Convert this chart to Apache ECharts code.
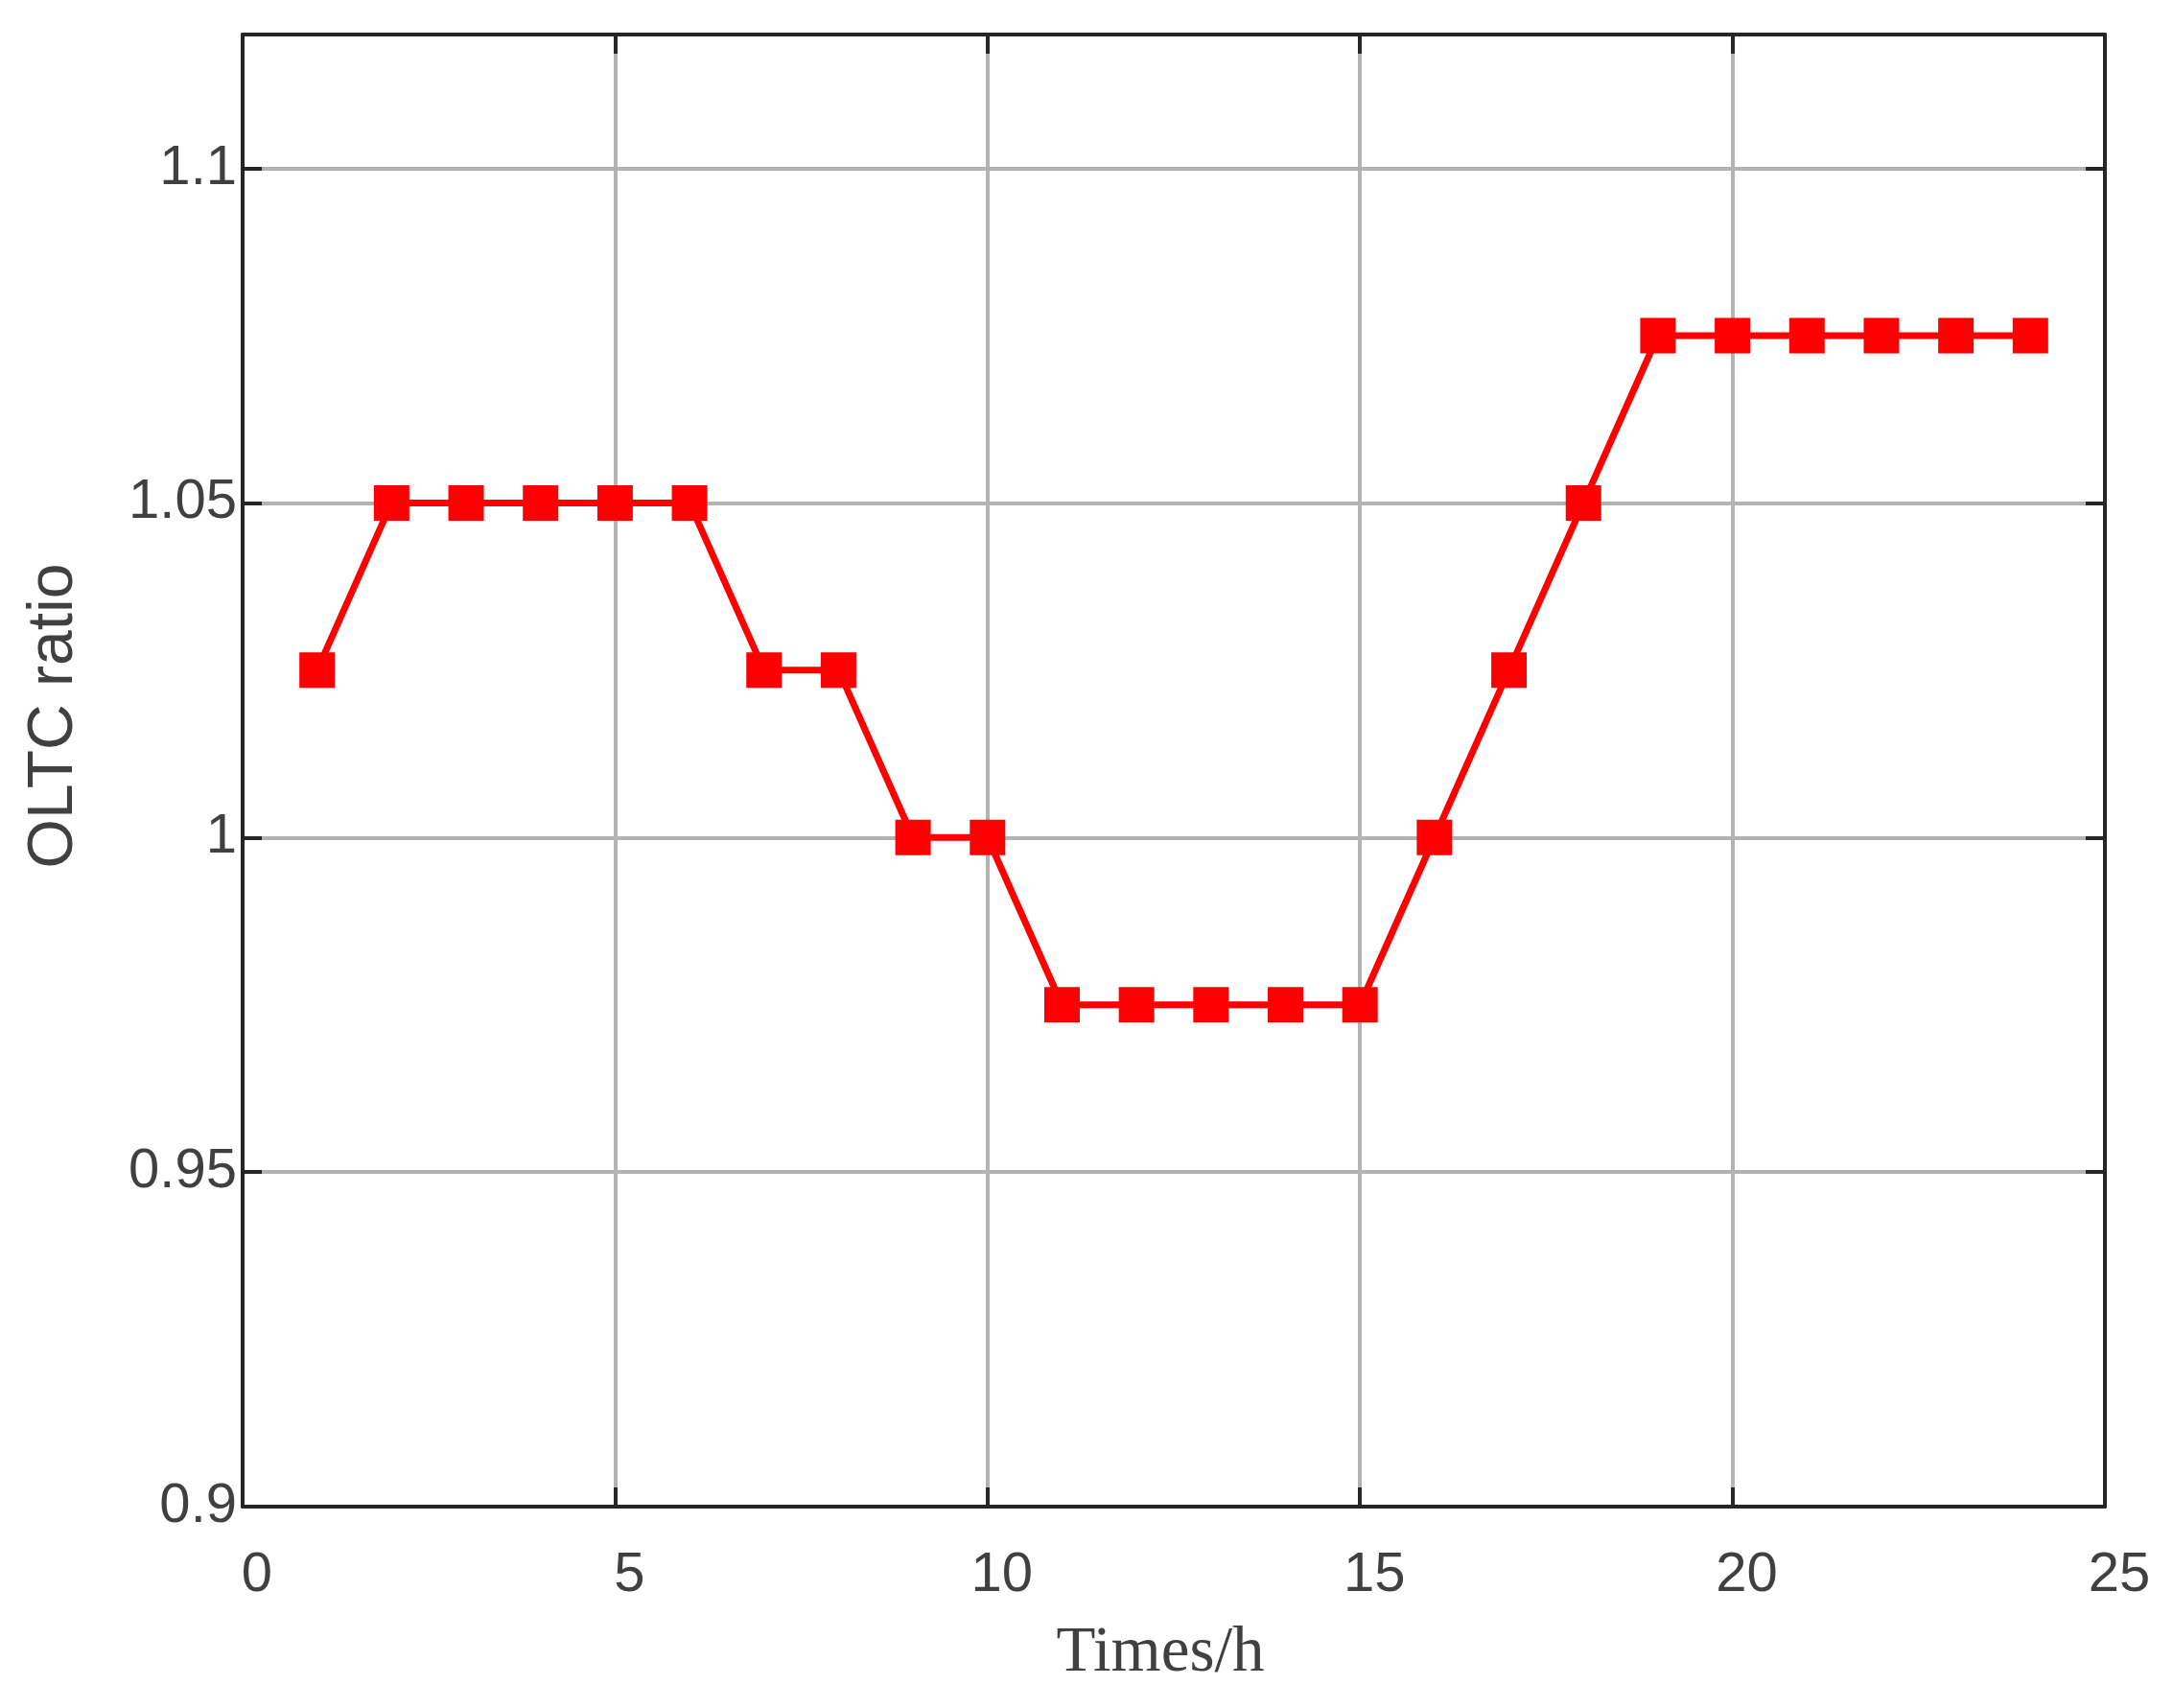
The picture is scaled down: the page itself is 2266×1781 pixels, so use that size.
<!DOCTYPE html>
<html>
<head>
<meta charset="utf-8">
<title>OLTC ratio</title>
<script src="https://cdn.jsdelivr.net/npm/echarts@6/dist/echarts.min.js"></script>
<style>
  html, body { margin: 0; padding: 0; background: #fff; }
  #chart { width: 2266px; height: 1781px; }
</style>
</head>
<body>
<div id="chart"></div>
<script>
// hours and OLTC tap ratio
const hours = [1, 2, 3, 4, 5, 6, 7, 8, 9, 10, 11, 12, 13, 14, 15, 16, 17, 18, 19, 20, 21, 22, 23, 24];
const ratio = [1.025, 1.05, 1.05, 1.05, 1.05, 1.05, 1.025, 1.025, 1.0, 1.0,
               0.975, 0.975, 0.975, 0.975, 0.975, 1.0, 1.025, 1.05,
               1.075, 1.075, 1.075, 1.075, 1.075, 1.075];

const xRange = { min: 0, max: 25, interval: 5 };
const yRange = { min: 0.9, max: 1.12, interval: 0.05 };

const axisColor = '#262626';
const labelColor = '#404040';
const sansFont = '"Liberation Sans", Arial, sans-serif';

const chart = echarts.init(document.getElementById('chart'));

// shared look of the box frame (MATLAB style: ticks inward on all four sides)
const frameLine = { show: true, onZero: false, lineStyle: { color: axisColor, width: 4 } };
const frameTick = { show: true, inside: true, length: 20, lineStyle: { color: axisColor, width: 4 } };

chart.setOption({
  animation: false,
  backgroundColor: '#ffffff',
  grid: { left: 253, right: 71, top: 36, bottom: 210 },
  xAxis: [
    {
      type: 'value',
      ...xRange,
      position: 'bottom',
      name: 'Times/h',
      nameLocation: 'middle',
      nameGap: 120,
      nameTextStyle: {
        fontFamily: '"Liberation Serif", "Times New Roman", serif',
        fontSize: 67,
        color: labelColor,
        padding: [0, 28, 0, 0]
      },
      axisLine: frameLine,
      axisTick: frameTick,
      axisLabel: {
        margin: 43,
        fontFamily: sansFont,
        fontSize: 58,
        color: labelColor,
        padding: [0, 0, 0, 30]
      },
      splitLine: { show: true, lineStyle: { color: '#b3b3b3', width: 4 } }
    },
    {
      type: 'value',
      ...xRange,
      position: 'top',
      axisLine: frameLine,
      axisTick: frameTick,
      axisLabel: { show: false },
      splitLine: { show: false }
    }
  ],
  yAxis: [
    {
      type: 'value',
      ...yRange,
      position: 'left',
      name: 'OLTC ratio',
      nameLocation: 'middle',
      nameGap: 163,
      nameRotate: 90,
      nameTextStyle: {
        fontFamily: sansFont,
        fontSize: 66,
        color: labelColor,
        padding: [0, 0, 0, 114]
      },
      axisLine: frameLine,
      axisTick: frameTick,
      axisLabel: {
        margin: 6,
        fontFamily: sansFont,
        fontSize: 58,
        color: labelColor,
        showMaxLabel: false,
        padding: [12, 0, 0, 0]
      },
      splitLine: { show: true, lineStyle: { color: '#b3b3b3', width: 4 } }
    },
    {
      type: 'value',
      ...yRange,
      position: 'right',
      axisLine: frameLine,
      axisTick: frameTick,
      axisLabel: { show: false },
      splitLine: { show: false }
    }
  ],
  series: [{
    type: 'line',
    data: hours.map((h, i) => [h, ratio[i]]),
    symbol: 'rect',
    symbolSize: 37,
    lineStyle: { color: '#ff0000', width: 7 },
    itemStyle: { color: '#ff0000' },
    z: 5
  }]
});
</script>
</body>
</html>
